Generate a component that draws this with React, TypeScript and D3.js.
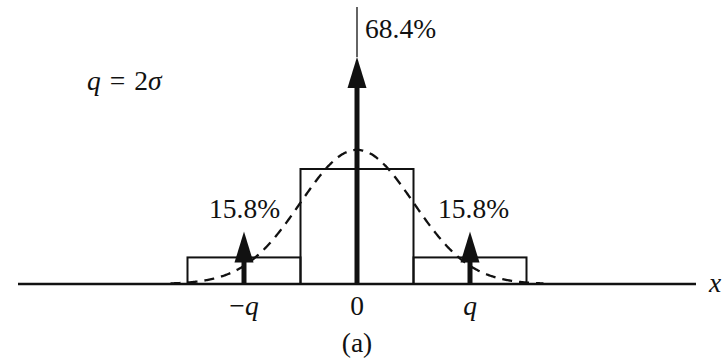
import React from "react";
import * as d3 from "d3";

// Quantization of a Gaussian with step q = 2σ: probability mass per bin
const binEdges = [-1.5, -0.5, 0.5, 1.5]; // in units of q
const binPercents = [15.8, 68.4, 15.8];
const impulsePositions = [-1, 0, 1]; // in units of q
const impulsePercents = [15.8, 68.4, 15.8];
const tickValues = [-1, 0, 1];
const tickLabels = ["−q", "0", "q"];
const sigmaOverQ = 0.5;

const W = 723;
const H = 359;
const baseY = 284;
const fs = 27.5;
const font = "'Liberation Serif', 'Times New Roman', serif";
const ink = "#111";

export default function App() {
  const x = d3.scaleLinear().domain([-3, 3]).range([18, 696]);
  // impulse heights in percent
  const yPct = d3.scaleLinear().domain([0, 68.4]).range([baseY, 57]);
  // densities in units of 1/q
  const yDen = d3.scaleLinear().domain([0, 0.684]).range([baseY, 169]);

  const gauss = (t: number) =>
    Math.exp(-(t * t) / (2 * sigmaOverQ * sigmaOverQ)) / (sigmaOverQ * Math.sqrt(2 * Math.PI));
  const curvePts = d3.range(-1.65, 1.6501, 0.01).map((t) => [t, gauss(t)] as [number, number]);
  const curve = d3
    .line<[number, number]>()
    .x((d) => x(d[0]))
    .y((d) => yDen(d[1]))
    .curve(d3.curveBasis)(curvePts);

  const headH = 31;
  const headW = 19;

  return (
    <svg
      width={W}
      height={H}
      style={{ position: "absolute", left: 0, top: 0, background: "#fff" }}
      fontFamily={font}
    >
      {/* histogram bins */}
      {binPercents.map((p, i) => {
        const x0 = x(binEdges[i]);
        const x1 = x(binEdges[i + 1]);
        const w = binEdges[i + 1] - binEdges[i];
        const yt = yDen(p / 100 / w);
        return (
          <rect
            key={i}
            x={x0}
            y={yt}
            width={x1 - x0}
            height={baseY - yt}
            fill="none"
            stroke={ink}
            strokeWidth={2}
          />
        );
      })}

      {/* Gaussian density */}
      <path d={curve ?? ""} fill="none" stroke={ink} strokeWidth={2.3} strokeDasharray="10 7" />

      {/* axis */}
      <line x1={x(-3)} x2={x(3)} y1={baseY} y2={baseY} stroke={ink} strokeWidth={2.5} />

      {/* thin vertical through the origin */}
      <line x1={x(0)} x2={x(0)} y1={7} y2={yPct(68.4)} stroke={ink} strokeWidth={1.3} />

      {/* impulses */}
      {impulsePercents.map((p, i) => {
        const cx = x(impulsePositions[i]);
        const tip = yPct(p);
        return (
          <g key={i}>
            <line x1={cx} x2={cx} y1={baseY} y2={tip + headH - 1} stroke={ink} strokeWidth={5} />
            <path
              d={`M${cx},${tip} L${cx - headW / 2},${tip + headH} L${cx + headW / 2},${tip + headH} Z`}
              fill={ink}
            />
          </g>
        );
      })}

      {/* impulse labels */}
      <text x={x(0) + 8} y={38} fontSize={fs} fill={ink}>
        68.4%
      </text>
      <text x={x(-1) - 35} y={218} fontSize={fs} fill={ink}>
        15.8%
      </text>
      <text x={x(1) - 32} y={218} fontSize={fs} fill={ink}>
        15.8%
      </text>

      {/* tick labels */}
      {tickValues.map((t, i) => (
        <text
          key={i}
          x={x(t)}
          y={315}
          fontSize={fs}
          textAnchor="middle"
          fill={ink}
          fontStyle={t === 0 ? "normal" : "italic"}
        >
          {t < 0 ? (
            <>
              <tspan fontStyle="normal">−</tspan>
              <tspan>q</tspan>
            </>
          ) : (
            tickLabels[i]
          )}
        </text>
      ))}

      <text x={x(0)} y={352} fontSize={fs} textAnchor="middle" fill={ink}>
        (a)
      </text>

      <text x={709} y={292} fontSize={fs} fontStyle="italic" fill={ink}>
        x
      </text>

      <text x={87} y={90} fontSize={fs} fill={ink}>
        <tspan fontStyle="italic">q</tspan>
        <tspan dx={9}>=</tspan>
        <tspan dx={9}>2</tspan>
        <tspan fontStyle="italic">σ</tspan>
      </text>
    </svg>
  );
}
